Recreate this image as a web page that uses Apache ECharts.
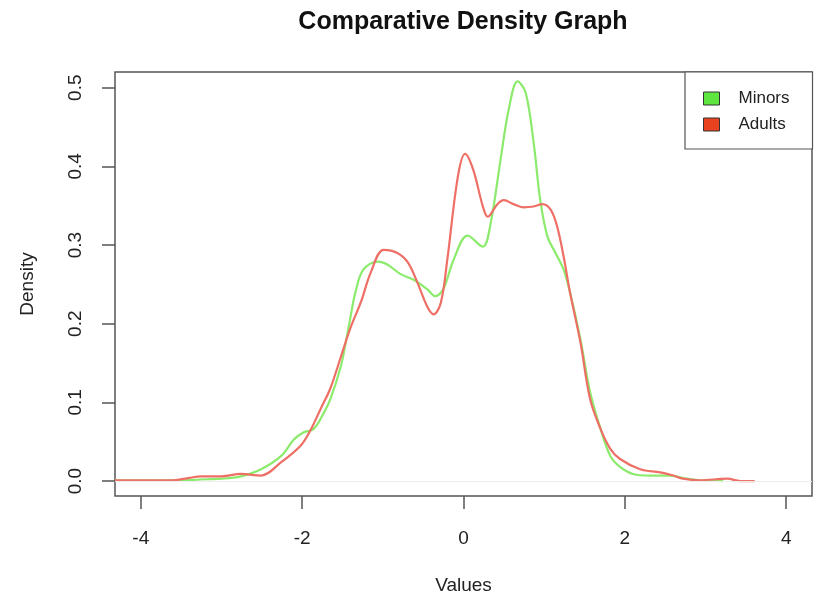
<!DOCTYPE html>
<html>
<head>
<meta charset="utf-8">
<script src="https://cdn.jsdelivr.net/npm/echarts@6/dist/echarts.min.js"></script>
<style>
  html, body { margin: 0; padding: 0; background: #fff; }
  #chart { width: 819px; height: 600px; }
</style>
</head>
<body>
<div id="chart"></div>
<script>
// density curves: [value, density]
const minors = [
  [-4.32, 0.001], [-4.0, 0.001], [-3.5, 0.001], [-3.26, 0.002], [-3.0, 0.003],
  [-2.76, 0.006], [-2.51, 0.015], [-2.26, 0.032], [-2.1, 0.053], [-1.98, 0.062],
  [-1.86, 0.066], [-1.73, 0.087], [-1.65, 0.104], [-1.52, 0.146], [-1.46, 0.176],
  [-1.40, 0.209], [-1.34, 0.240], [-1.24, 0.269], [-1.06, 0.279], [-0.94, 0.275],
  [-0.78, 0.263], [-0.62, 0.256], [-0.45, 0.244], [-0.35, 0.235], [-0.25, 0.244],
  [-0.12, 0.282], [0.05, 0.312], [0.24, 0.298], [0.33, 0.324], [0.46, 0.409],
  [0.56, 0.472], [0.67, 0.508], [0.77, 0.494], [0.87, 0.430], [0.95, 0.358],
  [1.04, 0.311], [1.14, 0.290], [1.24, 0.269], [1.32, 0.240], [1.45, 0.180],
  [1.57, 0.113], [1.70, 0.066], [1.82, 0.032], [1.94, 0.018], [2.10, 0.009],
  [2.31, 0.007], [2.56, 0.007], [2.77, 0.003], [2.93, 0.001], [3.22, 0.000]
];
const adults = [
  [-4.32, 0.001], [-4.0, 0.001], [-3.6, 0.001], [-3.4, 0.004], [-3.26, 0.006],
  [-3.0, 0.006], [-2.76, 0.009], [-2.51, 0.007], [-2.26, 0.024], [-2.02, 0.045],
  [-1.9, 0.064], [-1.77, 0.092], [-1.65, 0.118], [-1.52, 0.158], [-1.40, 0.195],
  [-1.27, 0.228], [-1.15, 0.265], [-0.99, 0.294], [-0.82, 0.290], [-0.69, 0.278],
  [-0.57, 0.252], [-0.45, 0.222], [-0.37, 0.212], [-0.28, 0.227], [-0.20, 0.282],
  [-0.07, 0.387], [0.02, 0.416], [0.12, 0.396], [0.24, 0.349], [0.30, 0.336],
  [0.42, 0.352], [0.50, 0.357], [0.62, 0.352], [0.74, 0.348], [0.87, 0.349],
  [0.98, 0.352], [1.08, 0.345], [1.16, 0.324], [1.24, 0.286], [1.32, 0.240],
  [1.45, 0.176], [1.57, 0.104], [1.70, 0.066], [1.82, 0.041], [1.94, 0.028],
  [2.19, 0.015], [2.44, 0.011], [2.60, 0.007], [2.72, 0.003], [2.93, 0.001],
  [3.27, 0.003], [3.43, 0.000], [3.61, 0.000]
];
const xTicks = [-4, -2, 0, 2, 4];
const yTicks = [0, 0.1, 0.2, 0.3, 0.4, 0.5];

const chart = echarts.init(document.getElementById('chart'));
const font = 'Liberation Sans, Arial, Helvetica, sans-serif';

chart.setOption({
  backgroundColor: '#fff',
  animation: false,
  textStyle: { fontFamily: font },
  title: {
    text: 'Comparative Density Graph',
    left: 458,
    top: 5,
    textAlign: 'center',
    textStyle: { fontSize: 25, fontWeight: 'bold', color: '#111', fontFamily: font }
  },
  legend: {
    orient: 'vertical',
    left: 685,
    top: 72,
    padding: [18, 23, 16, 18],
    itemGap: 9,
    itemWidth: 16,
    itemHeight: 13,
    icon: 'rect',
    backgroundColor: '#fff',
    borderColor: '#555',
    borderWidth: 1.2,
    borderRadius: 0,
    textStyle: { fontSize: 17, color: '#222', padding: [0, 0, 0, 14], lineHeight: 13 },
    data: [
      { name: 'Minors', itemStyle: { color: '#5fe53f', borderColor: '#333', borderWidth: 1 } },
      { name: 'Adults', itemStyle: { color: '#e8421f', borderColor: '#333', borderWidth: 1 } }
    ]
  },
  grid: {
    left: 115, right: 7, top: 72, bottom: 103,
    show: true, borderColor: '#555', borderWidth: 1.5, backgroundColor: 'transparent'
  },
  xAxis: {
    type: 'value',
    min: -4.32, max: 4.32,
    name: 'Values',
    nameLocation: 'middle',
    nameGap: 80,
    nameTextStyle: { fontSize: 19, color: '#222' },
    axisLine: { show: false, onZero: false },
    splitLine: { show: false },
    axisTick: { show: true, inside: false, length: 13, lineStyle: { color: '#555', width: 1.5 }, customValues: xTicks },
    axisLabel: { fontSize: 19, color: '#222', margin: 33, customValues: xTicks }
  },
  yAxis: {
    type: 'value',
    min: -0.019, max: 0.52,
    name: 'Density',
    nameLocation: 'middle',
    nameRotate: 90,
    nameGap: 78,
    nameTextStyle: { fontSize: 19, color: '#222' },
    axisLine: { show: false, onZero: false },
    splitLine: { show: false },
    axisTick: { show: true, inside: false, length: 13, lineStyle: { color: '#555', width: 1.5 }, customValues: yTicks },
    axisLabel: {
      fontSize: 19, color: '#222', margin: 30, rotate: 90,
      customValues: yTicks,
      formatter: v => v.toFixed(1)
    }
  },
  series: [
    {
      name: 'Minors', type: 'line', data: minors, smooth: 0.35, showSymbol: false,
      itemStyle: { color: '#5fe53f' },
      lineStyle: { color: '#8ceb6c', width: 2.2 },
      markLine: {
        silent: true, symbol: 'none', label: { show: false },
        lineStyle: { color: '#ececec', width: 1, type: 'solid' },
        data: [{ yAxis: 0 }]
      },
      z: 2
    },
    {
      name: 'Adults', type: 'line', data: adults, smooth: 0.35, showSymbol: false,
      itemStyle: { color: '#e8421f' },
      lineStyle: { color: '#ee6f66', width: 2.2 },
      z: 3
    }
  ]
});
</script>
</body>
</html>
